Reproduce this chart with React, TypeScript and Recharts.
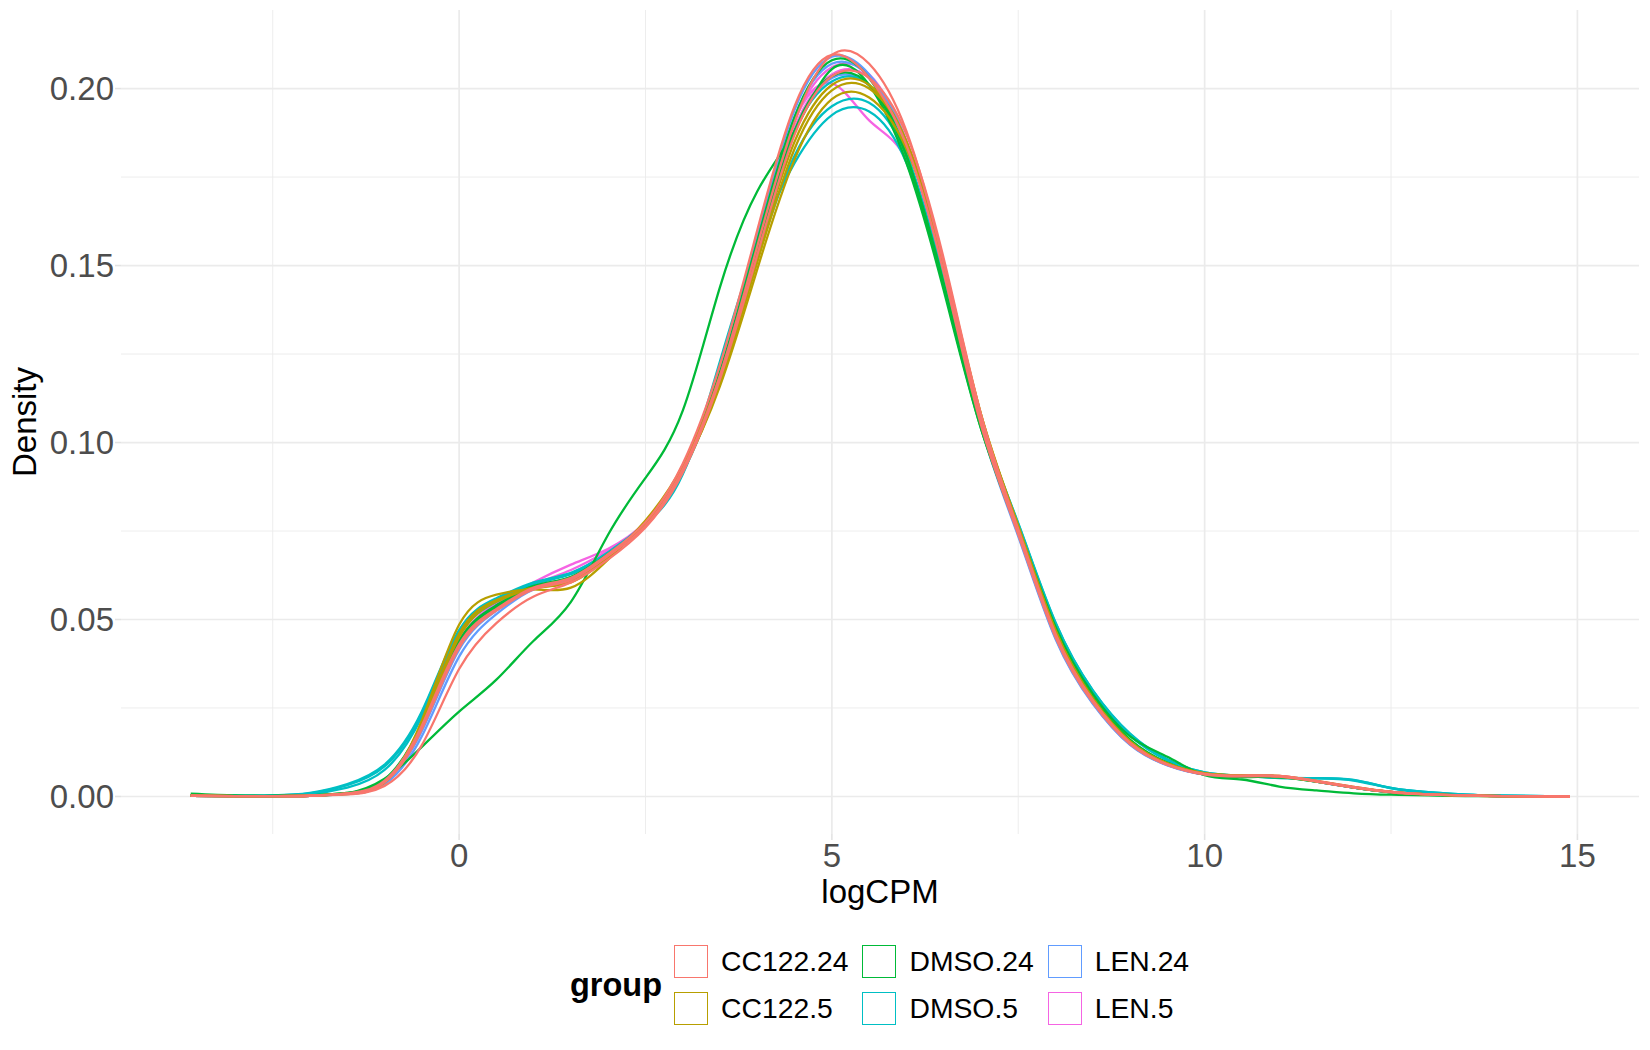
import React from 'react';
import { LineChart, Line, XAxis, YAxis, ReferenceLine, Legend } from 'recharts';

// logCPM grid at which each sample's density curve was read
const X_VALUES = [-3.6, -3, -2.5, -2, -1.5, -1, -0.5, 0, 0.5, 1, 1.5, 2, 2.5, 3, 3.5, 4, 4.5, 5, 5.5, 6, 6.5, 7, 7.5, 8, 8.5, 9, 9.5, 10, 10.5, 11, 11.5, 12, 12.5, 13, 13.5, 14, 14.9];

const GROUPS = ['CC122.24', 'CC122.5', 'DMSO.24', 'DMSO.5', 'LEN.24', 'LEN.5'];
const GROUP_COLORS = ['#F8766D', '#B79F00', '#00BA38', '#00BFC4', '#619CFF', '#F564E3'];

const X_TICKS = [0, 5, 10, 15];
const X_MINOR = [-2.5, 2.5, 7.5, 12.5];
const Y_TICKS = [0, 0.05, 0.1, 0.15, 0.2];
const Y_MINOR = [0.025, 0.075, 0.125, 0.175];

// density values per sample
const CC122_24_A = [0.0002, 0.0001, 0.0001, 0.0002, 0.0008, 0.0040, 0.0190, 0.0420, 0.0525, 0.0585, 0.0612, 0.0680, 0.0765, 0.0925, 0.1190, 0.1555, 0.1905, 0.2095, 0.2070, 0.1880, 0.1505, 0.1065, 0.0750, 0.0455, 0.0270, 0.0150, 0.0090, 0.0063, 0.0058, 0.0058, 0.0043, 0.0026, 0.0013, 0.0006, 0.0003, 0.0001, 0.0000];
const CC122_24_B = [0.0002, 0.0001, 0.0001, 0.0002, 0.0009, 0.0045, 0.0200, 0.0430, 0.0530, 0.0590, 0.0618, 0.0685, 0.0775, 0.0940, 0.1220, 0.1600, 0.1950, 0.2095, 0.2030, 0.1840, 0.1480, 0.1050, 0.0740, 0.0450, 0.0265, 0.0148, 0.0089, 0.0062, 0.0057, 0.0056, 0.0042, 0.0025, 0.0012, 0.0006, 0.0003, 0.0001, 0.0000];
const CC122_24_C = [0.0002, 0.0001, 0.0001, 0.0002, 0.0006, 0.0030, 0.0145, 0.0360, 0.0490, 0.0565, 0.0605, 0.0670, 0.0760, 0.0915, 0.1180, 0.1530, 0.1870, 0.2035, 0.2030, 0.1870, 0.1520, 0.1080, 0.0755, 0.0460, 0.0272, 0.0152, 0.0091, 0.0064, 0.0059, 0.0058, 0.0044, 0.0027, 0.0013, 0.0006, 0.0003, 0.0001, 0.0000];

const CC122_5_A = [0.0002, 0.0001, 0.0001, 0.0002, 0.0007, 0.0040, 0.0215, 0.0485, 0.0570, 0.0585, 0.0590, 0.0670, 0.0780, 0.0935, 0.1190, 0.1530, 0.1850, 0.2010, 0.2010, 0.1850, 0.1500, 0.1075, 0.0760, 0.0465, 0.0275, 0.0155, 0.0093, 0.0065, 0.0059, 0.0057, 0.0043, 0.0026, 0.0013, 0.0006, 0.0003, 0.0001, 0.0000];
const CC122_5_B = [0.0002, 0.0001, 0.0001, 0.0002, 0.0008, 0.0042, 0.0205, 0.0460, 0.0555, 0.0590, 0.0605, 0.0675, 0.0770, 0.0920, 0.1170, 0.1510, 0.1830, 0.1995, 0.2000, 0.1850, 0.1510, 0.1080, 0.0762, 0.0468, 0.0276, 0.0155, 0.0093, 0.0065, 0.0059, 0.0057, 0.0043, 0.0026, 0.0013, 0.0006, 0.0003, 0.0001, 0.0000];
const CC122_5_C = [0.0002, 0.0001, 0.0001, 0.0002, 0.0008, 0.0040, 0.0200, 0.0450, 0.0550, 0.0588, 0.0608, 0.0680, 0.0775, 0.0925, 0.1160, 0.1490, 0.1800, 0.1970, 0.1975, 0.1830, 0.1500, 0.1080, 0.0765, 0.0470, 0.0278, 0.0156, 0.0094, 0.0066, 0.0060, 0.0058, 0.0044, 0.0027, 0.0013, 0.0006, 0.0003, 0.0001, 0.0000];

const DMSO_24_A = [0.0002, 0.0001, 0.0001, 0.0003, 0.0010, 0.0048, 0.0205, 0.0440, 0.0540, 0.0595, 0.0620, 0.0685, 0.0770, 0.0930, 0.1200, 0.1570, 0.1920, 0.2080, 0.2030, 0.1810, 0.1440, 0.1040, 0.0745, 0.0465, 0.0280, 0.0160, 0.0095, 0.0062, 0.0055, 0.0054, 0.0042, 0.0025, 0.0012, 0.0006, 0.0003, 0.0001, 0.0000];
const DMSO_24_B = [0.0002, 0.0001, 0.0001, 0.0003, 0.0010, 0.0046, 0.0200, 0.0435, 0.0535, 0.0592, 0.0620, 0.0685, 0.0770, 0.0925, 0.1185, 0.1540, 0.1880, 0.2035, 0.2010, 0.1810, 0.1450, 0.1050, 0.0755, 0.0470, 0.0280, 0.0160, 0.0095, 0.0063, 0.0056, 0.0055, 0.0042, 0.0025, 0.0012, 0.0006, 0.0003, 0.0001, 0.0000];
const DMSO_24_C = [0.0008, 0.0003, 0.0002, 0.0003, 0.0009, 0.0050, 0.0140, 0.0240, 0.0330, 0.0440, 0.0550, 0.0740, 0.0900, 0.1090, 0.1440, 0.1710, 0.1880, 0.2055, 0.2010, 0.1790, 0.1430, 0.1040, 0.0760, 0.0480, 0.0290, 0.0170, 0.0112, 0.0060, 0.0048, 0.0028, 0.0017, 0.0009, 0.0005, 0.0003, 0.0001, 0.0001, 0.0000];

const DMSO_5_A = [0.0003, 0.0002, 0.0003, 0.0010, 0.0035, 0.0090, 0.0240, 0.0470, 0.0560, 0.0605, 0.0632, 0.0690, 0.0770, 0.0910, 0.1230, 0.1560, 0.1790, 0.1925, 0.1935, 0.1790, 0.1450, 0.1060, 0.0770, 0.0490, 0.0300, 0.0178, 0.0105, 0.0068, 0.0058, 0.0052, 0.0052, 0.0047, 0.0024, 0.0012, 0.0005, 0.0002, 0.0000];
const DMSO_5_B = [0.0003, 0.0002, 0.0003, 0.0009, 0.0032, 0.0085, 0.0235, 0.0465, 0.0555, 0.0602, 0.0630, 0.0688, 0.0770, 0.0915, 0.1180, 0.1520, 0.1810, 0.1950, 0.1960, 0.1810, 0.1460, 0.1065, 0.0772, 0.0492, 0.0300, 0.0176, 0.0104, 0.0068, 0.0058, 0.0053, 0.0052, 0.0046, 0.0024, 0.0012, 0.0005, 0.0002, 0.0000];
const DMSO_5_C = [0.0003, 0.0002, 0.0002, 0.0007, 0.0025, 0.0075, 0.0225, 0.0455, 0.0550, 0.0600, 0.0628, 0.0688, 0.0772, 0.0925, 0.1200, 0.1560, 0.1880, 0.2020, 0.2010, 0.1820, 0.1460, 0.1060, 0.0765, 0.0485, 0.0295, 0.0172, 0.0102, 0.0066, 0.0057, 0.0053, 0.0051, 0.0045, 0.0023, 0.0011, 0.0005, 0.0002, 0.0000];

const LEN_24_A = [0.0002, 0.0001, 0.0001, 0.0002, 0.0007, 0.0035, 0.0170, 0.0395, 0.0515, 0.0585, 0.0615, 0.0680, 0.0765, 0.0925, 0.1210, 0.1590, 0.1940, 0.2090, 0.2040, 0.1850, 0.1480, 0.1045, 0.0735, 0.0445, 0.0262, 0.0146, 0.0088, 0.0062, 0.0057, 0.0057, 0.0042, 0.0025, 0.0012, 0.0006, 0.0003, 0.0001, 0.0000];
const LEN_24_B = [0.0002, 0.0001, 0.0001, 0.0002, 0.0008, 0.0040, 0.0185, 0.0415, 0.0525, 0.0588, 0.0615, 0.0682, 0.0768, 0.0925, 0.1200, 0.1575, 0.1920, 0.2070, 0.2035, 0.1850, 0.1490, 0.1050, 0.0740, 0.0448, 0.0264, 0.0147, 0.0089, 0.0062, 0.0057, 0.0057, 0.0042, 0.0025, 0.0012, 0.0006, 0.0003, 0.0001, 0.0000];
const LEN_24_C = [0.0002, 0.0001, 0.0001, 0.0002, 0.0008, 0.0042, 0.0195, 0.0425, 0.0530, 0.0590, 0.0618, 0.0684, 0.0770, 0.0925, 0.1190, 0.1550, 0.1880, 0.2030, 0.2010, 0.1840, 0.1490, 0.1055, 0.0745, 0.0452, 0.0266, 0.0148, 0.0089, 0.0063, 0.0058, 0.0057, 0.0043, 0.0026, 0.0012, 0.0006, 0.0003, 0.0001, 0.0000];

const LEN_5_A = [0.0002, 0.0001, 0.0001, 0.0002, 0.0008, 0.0042, 0.0200, 0.0440, 0.0545, 0.0605, 0.0655, 0.0700, 0.0775, 0.0930, 0.1210, 0.1580, 0.1910, 0.2015, 0.1910, 0.1800, 0.1475, 0.1052, 0.0745, 0.0455, 0.0268, 0.0150, 0.0090, 0.0063, 0.0058, 0.0057, 0.0043, 0.0026, 0.0013, 0.0006, 0.0003, 0.0001, 0.0000];
const LEN_5_B = [0.0002, 0.0001, 0.0001, 0.0002, 0.0008, 0.0040, 0.0195, 0.0435, 0.0540, 0.0598, 0.0640, 0.0695, 0.0772, 0.0928, 0.1200, 0.1570, 0.1910, 0.2060, 0.2040, 0.1850, 0.1490, 0.1055, 0.0745, 0.0452, 0.0267, 0.0149, 0.0090, 0.0063, 0.0058, 0.0057, 0.0043, 0.0026, 0.0013, 0.0006, 0.0003, 0.0001, 0.0000];
const LEN_5_C = [0.0002, 0.0001, 0.0001, 0.0002, 0.0008, 0.0041, 0.0198, 0.0438, 0.0542, 0.0600, 0.0630, 0.0690, 0.0770, 0.0925, 0.1195, 0.1560, 0.1890, 0.2040, 0.2030, 0.1850, 0.1500, 0.1060, 0.0748, 0.0455, 0.0268, 0.0150, 0.0090, 0.0063, 0.0058, 0.0057, 0.0043, 0.0026, 0.0013, 0.0006, 0.0003, 0.0001, 0.0000];

// drawing order: first drawn is at the bottom
const SAMPLES = [
  { key: 'LEN.5_1', group: 5, values: LEN_5_A },
  { key: 'LEN.5_2', group: 5, values: LEN_5_B },
  { key: 'LEN.5_3', group: 5, values: LEN_5_C },
  { key: 'LEN.24_1', group: 4, values: LEN_24_A },
  { key: 'LEN.24_2', group: 4, values: LEN_24_B },
  { key: 'LEN.24_3', group: 4, values: LEN_24_C },
  { key: 'DMSO.5_1', group: 3, values: DMSO_5_A },
  { key: 'DMSO.5_2', group: 3, values: DMSO_5_B },
  { key: 'DMSO.5_3', group: 3, values: DMSO_5_C },
  { key: 'DMSO.24_1', group: 2, values: DMSO_24_A },
  { key: 'DMSO.24_2', group: 2, values: DMSO_24_B },
  { key: 'DMSO.24_3', group: 2, values: DMSO_24_C },
  { key: 'CC122.5_1', group: 1, values: CC122_5_A },
  { key: 'CC122.5_2', group: 1, values: CC122_5_B },
  { key: 'CC122.5_3', group: 1, values: CC122_5_C },
  { key: 'CC122.24_1', group: 0, values: CC122_24_A },
  { key: 'CC122.24_2', group: 0, values: CC122_24_B },
  { key: 'CC122.24_3', group: 0, values: CC122_24_C },
];

const ROWS = X_VALUES.map((x, i) => {
  const row: Record<string, number> = { x };
  SAMPLES.forEach((s) => {
    row[s.key] = s.values[i];
  });
  return row;
});

const FONT = '"Liberation Sans", Arial, Helvetica, sans-serif';
const GRID = '#EBEBEB';

const LegendBox = () => (
  <div
    style={{
      position: 'absolute',
      left: 570,
      top: 945,
      display: 'flex',
      alignItems: 'center',
      fontFamily: FONT,
      color: '#000',
    }}
  >
    <div style={{ fontWeight: 'bold', fontSize: 32.5, lineHeight: '33px', marginRight: 12 }}>group</div>
    <div
      style={{
        display: 'grid',
        gridTemplateRows: '33px 33px',
        gridAutoFlow: 'column',
        rowGap: 14,
        columnGap: 14,
      }}
    >
      {GROUPS.map((g, i) => (
        <div key={g} style={{ display: 'flex', alignItems: 'center', height: 33 }}>
          <div
            style={{
              width: 34,
              height: 33,
              boxSizing: 'border-box',
              border: `1.8px solid ${GROUP_COLORS[i]}`,
              background: '#fff',
              marginRight: 13,
            }}
          />
          <span style={{ fontSize: 28.3, lineHeight: '33px', whiteSpace: 'nowrap' }}>{g}</span>
        </div>
      ))}
    </div>
  </div>
);

export default function App() {
  return (
    <div style={{ position: 'absolute', left: 0, top: 0, width: 1650, height: 1050, background: '#fff' }}>
      <LineChart
        width={1650}
        height={1050}
        data={ROWS}
        margin={{ top: 10, right: 11, left: 0, bottom: 146 }}
        style={{ fontFamily: FONT }}
      >
        <XAxis
          type="number"
          dataKey="x"
          domain={[-4.535, 15.826]}
          ticks={X_TICKS}
          allowDataOverflow
          height={70}
          axisLine={false}
          tickSize={6}
          tickMargin={4}
          tickLine={{ stroke: '#E3E3E3', strokeWidth: 1.6 }}
          tick={{ fontSize: 33, fill: '#4D4D4D', fontFamily: FONT }}
          label={{
            content: (props: any) => {
              const vb = props.viewBox || { x: 121, y: 834, width: 1518, height: 70 };
              return (
                <text
                  x={vb.x + vb.width / 2}
                  y={vb.y + 69}
                  textAnchor="middle"
                  fontSize={33}
                  fill="#000"
                  fontFamily={FONT}
                >
                  logCPM
                </text>
              );
            },
          }}
        />
        <YAxis
          type="number"
          domain={[-0.0106, 0.2222]}
          ticks={Y_TICKS}
          allowDataOverflow
          width={121}
          axisLine={false}
          tickSize={6}
          tickMargin={1}
          tickLine={{ stroke: '#E3E3E3', strokeWidth: 1.6 }}
          tickFormatter={(v: number) => v.toFixed(2)}
          tick={{ fontSize: 33, fill: '#4D4D4D', fontFamily: FONT }}
          label={{
            content: (props: any) => {
              const vb = props.viewBox || { x: 0, y: 10, width: 121, height: 824 };
              const cy = vb.y + vb.height / 2;
              return (
                <text
                  x={0}
                  y={0}
                  transform={`translate(36, ${cy}) rotate(-90)`}
                  textAnchor="middle"
                  fontSize={33}
                  fill="#000"
                  fontFamily={FONT}
                >
                  Density
                </text>
              );
            },
          }}
        />
        {X_MINOR.map((v) => (
          <ReferenceLine key={`xm${v}`} x={v} stroke={GRID} strokeWidth={0.9} />
        ))}
        {Y_MINOR.map((v) => (
          <ReferenceLine key={`ym${v}`} y={v} stroke={GRID} strokeWidth={0.9} />
        ))}
        {X_TICKS.map((v) => (
          <ReferenceLine key={`xM${v}`} x={v} stroke={GRID} strokeWidth={1.7} />
        ))}
        {Y_TICKS.map((v) => (
          <ReferenceLine key={`yM${v}`} y={v} stroke={GRID} strokeWidth={1.7} />
        ))}
        {SAMPLES.map((s) => (
          <Line
            key={s.key}
            dataKey={s.key}
            type="natural"
            stroke={GROUP_COLORS[s.group]}
            strokeWidth={2.3}
            dot={false}
            activeDot={false}
            isAnimationActive={false}
            legendType="none"
          />
        ))}
        <Legend
          verticalAlign="middle"
          align="center"
          wrapperStyle={{ left: 0, top: 0, width: 1650, height: 1050, pointerEvents: 'none' }}
          content={() => <LegendBox />}
        />
      </LineChart>
    </div>
  );
}
